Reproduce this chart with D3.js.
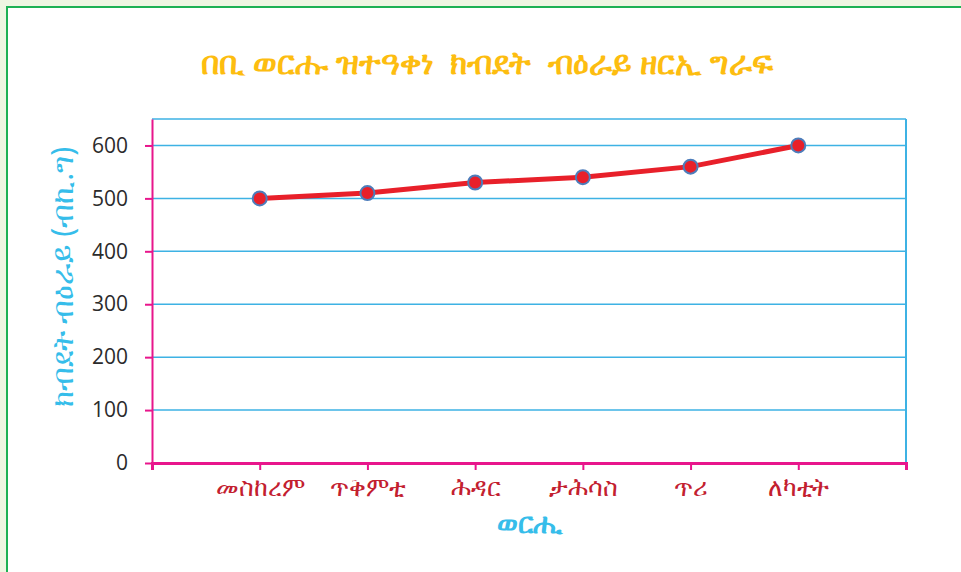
<!DOCTYPE html>
<html lang="ti">
<head>
    <meta charset="UTF-8">
    <title>ክብደት ብዕራይ</title>
    <script src="https://d3js.org/d3.v7.min.js"></script>
    <style>
        body {
            margin: 0;
            background-color: #eef6e2;
            font-family: "Noto Sans", "DejaVu Sans", sans-serif;
        }
    </style>
</head>
<body>
    <div id="chart"></div>
    <script>
        // chart data
        var months = ["መስከረም", "ጥቅምቲ", "ሕዳር", "ታሕሳስ", "ጥሪ", "ለካቲት"];
        var weights = [500, 510, 530, 540, 560, 600];
        var yTicks = [0, 100, 200, 300, 400, 500, 600];

        var titleText = "በቢ ወርሑ ዝተዓቀነ  ክብደት  ብዕራይ ዘርኢ ግራፍ";
        var xTitle = "ወርሒ";
        var yTitle = "ክብደት ብዕራይ (ብኪ.ግ)";

        var W = 961, H = 572;
        var margin = {top: 119, right: 55, bottom: 109, left: 152},
            width = W - margin.left - margin.right,
            height = H - margin.top - margin.bottom;

        var svg = d3.select("#chart")
            .append("svg")
            .attr("width", W)
            .attr("height", H);

        // white panel with green frame
        svg.append("rect")
            .attr("x", 7).attr("y", 7)
            .attr("width", W).attr("height", H)
            .attr("fill", "white")
            .attr("stroke", "#1db154")
            .attr("stroke-width", 2);

        var g = svg.append("g")
            .attr("transform", `translate(${margin.left},${margin.top})`);

        var x = d3.scalePoint()
            .domain(months)
            .range([0, width])
            .padding(1);

        var y = d3.scaleLinear()
            .domain([0, 650])
            .range([height, 0]);

        // gridlines
        g.selectAll(".grid")
            .data(yTicks.slice(1).concat([650]))
            .enter().append("line")
            .attr("x1", 0).attr("x2", width)
            .attr("y1", function (d) {return y(d);})
            .attr("y2", function (d) {return y(d);})
            .attr("stroke", "#3db2e4")
            .attr("stroke-width", 1.5);

        // right border
        g.append("line")
            .attr("x1", width).attr("x2", width)
            .attr("y1", 0).attr("y2", height)
            .attr("stroke", "#3db2e4")
            .attr("stroke-width", 2);

        // y axis
        var yAxis = g.append("g")
            .call(d3.axisLeft(y).tickValues(yTicks).tickSize(7).tickSizeOuter(0).tickPadding(17));
        yAxis.select(".domain").attr("stroke", "#e8168c").attr("stroke-width", 2);
        yAxis.selectAll(".tick line").attr("stroke", "#e8168c").attr("stroke-width", 2);
        yAxis.selectAll("text")
            .attr("fill", "#2b2b2b")
            .style("font-size", "21px")
            .style("font-family", "'Open Sans', 'Noto Sans', sans-serif");

        // x axis
        var xAxis = g.append("g")
            .attr("transform", `translate(0,${height})`)
            .call(d3.axisBottom(x).tickSize(7).tickSizeOuter(7).tickPadding(8));
        xAxis.select(".domain").attr("stroke", "#e8168c").attr("stroke-width", 3);
        xAxis.selectAll(".tick line").attr("stroke", "#e8168c").attr("stroke-width", 2);
        xAxis.selectAll("text")
            .attr("fill", "#c3202f")
            .style("font-size", "25px");

        // line
        var line = d3.line()
            .x(function (d, i) {return x(months[i]);})
            .y(function (d) {return y(d);});

        g.append("path")
            .datum(weights)
            .attr("d", line)
            .attr("fill", "none")
            .attr("stroke", "#e8202a")
            .attr("stroke-width", 5);

        g.selectAll(".dot")
            .data(weights)
            .enter().append("circle")
            .attr("class", "dot")
            .attr("cx", function (d, i) {return x(months[i]);})
            .attr("cy", function (d) {return y(d);})
            .attr("r", 7)
            .attr("fill", "#e8202a")
            .attr("stroke", "#4d7dbb")
            .attr("stroke-width", 2);

        // title
        svg.append("text")
            .attr("x", 487)
            .attr("y", 74)
            .attr("text-anchor", "middle")
            .attr("fill", "#fdbd10")
            .style("font-size", "32px")
            .style("font-weight", "bold")
            .style("white-space", "pre")
            .text(titleText);

        // x axis title
        svg.append("text")
            .attr("x", margin.left + x(months[2]) + (x(months[3]) - x(months[2])) / 2)
            .attr("y", 533)
            .attr("text-anchor", "middle")
            .attr("fill", "#36bdea")
            .style("font-size", "28px")
            .style("font-weight", "bold")
            .text(xTitle);

        // y axis title
        svg.append("text")
            .attr("transform", "translate(73,277) rotate(-90)")
            .attr("text-anchor", "middle")
            .attr("fill", "#36bdea")
            .style("font-size", "30px")
            .text(yTitle);
    </script>
</body>
</html>
